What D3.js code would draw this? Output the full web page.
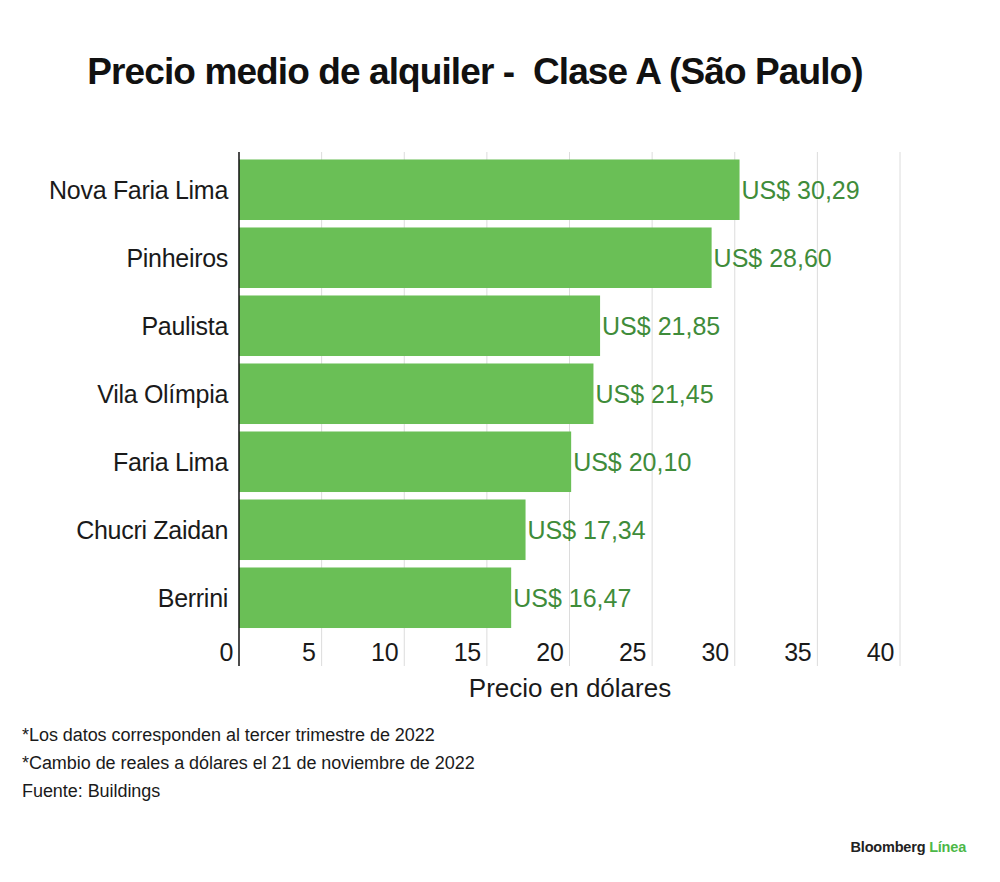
<!DOCTYPE html>
<html><head><meta charset="utf-8">
<script src="https://cdn.jsdelivr.net/npm/d3@7/dist/d3.min.js"></script>
<style>
body{margin:0;background:#fff;}
svg{display:block;font-family:"Liberation Sans",Arial,sans-serif;}
</style></head>
<body>
<svg id="c" width="1000" height="882"></svg>
<script>
const categories = ["Nova Faria Lima","Pinheiros","Paulista","Vila Olímpia","Faria Lima","Chucri Zaidan","Berrini"];
const values = [30.29, 28.60, 21.85, 21.45, 20.10, 17.34, 16.47];
const valueLabels = ["US$ 30,29","US$ 28,60","US$ 21,85","US$ 21,45","US$ 20,10","US$ 17,34","US$ 16,47"];
const ticks = [0,5,10,15,20,25,30,35,40];
const title = "Precio medio de alquiler -  Clase A (São Paulo)";
const xTitle = "Precio en dólares";
const notes = ["*Los datos corresponden al tercer trimestre de 2022","*Cambio de reales a dólares el 21 de noviembre de 2022","Fuente: Buildings"];

const svg = d3.select("#c");
const x = d3.scaleLinear().domain([0,40]).range([239,900]);
const y = d3.scaleBand().domain(categories).range([152,635.5]).paddingInner(0.11).paddingOuter(0.11);
const gridTop = 152, gridBottom = 666;

// title
svg.append("text").attr("x",475).attr("y",84).attr("text-anchor","middle")
  .attr("font-size",37).attr("font-weight","bold").attr("letter-spacing",-0.9).attr("fill","#111")
  .style("white-space","pre").text(title);

// gridlines
svg.append("g").selectAll("line").data(ticks.slice(1)).join("line")
  .attr("x1",d=>x(d)).attr("x2",d=>x(d)).attr("y1",gridTop).attr("y2",gridBottom)
  .attr("stroke","#dcdcdc").attr("stroke-width",1);

// bars
svg.append("g").selectAll("rect").data(values).join("rect")
  .attr("x",x(0)).attr("y",(d,i)=>y(categories[i]))
  .attr("width",d=>x(d)-x(0)).attr("height",y.bandwidth())
  .attr("fill","#6abf56");

// axis line
svg.append("line").attr("x1",x(0)).attr("x2",x(0)).attr("y1",gridTop).attr("y2",gridBottom)
  .attr("stroke","#111").attr("stroke-width",1.5);

// category labels
svg.append("g").selectAll("text").data(categories).join("text")
  .attr("x",228).attr("y",d=>y(d)+y.bandwidth()/2+9).attr("text-anchor","end")
  .attr("font-size",25).attr("letter-spacing",-0.3).attr("fill","#1a1a1a").text(d=>d);

// value labels
svg.append("g").selectAll("text").data(values).join("text")
  .attr("x",d=>x(d)+2).attr("y",(d,i)=>y(categories[i])+y.bandwidth()/2+9)
  .attr("font-size",25).attr("letter-spacing",0).attr("fill","#3f8c3a").text((d,i)=>valueLabels[i]);

// tick labels
svg.append("g").selectAll("text").data(ticks).join("text")
  .attr("x",d=>x(d)-6).attr("y",661).attr("text-anchor","end")
  .attr("font-size",25).attr("letter-spacing",-0.3).attr("fill","#1a1a1a").text(d=>d);

// axis title
svg.append("text").attr("x",570).attr("y",697).attr("text-anchor","middle")
  .attr("font-size",26).attr("letter-spacing",0).attr("fill","#1a1a1a").text(xTitle);

// notes
svg.append("g").selectAll("text").data(notes).join("text")
  .attr("x",22).attr("y",(d,i)=>741+i*28)
  .attr("font-size",18).attr("letter-spacing",-0.05).attr("fill","#1a1a1a").text(d=>d);

// logo
const logo = svg.append("text").attr("x",966).attr("y",852).attr("text-anchor","end")
  .attr("font-size",14.5).attr("font-weight","bold").attr("letter-spacing",-0.2);
logo.append("tspan").attr("fill","#222").text("Bloomberg ");
logo.append("tspan").attr("fill","#4cb848").text("Línea");
</script>
</body></html>
